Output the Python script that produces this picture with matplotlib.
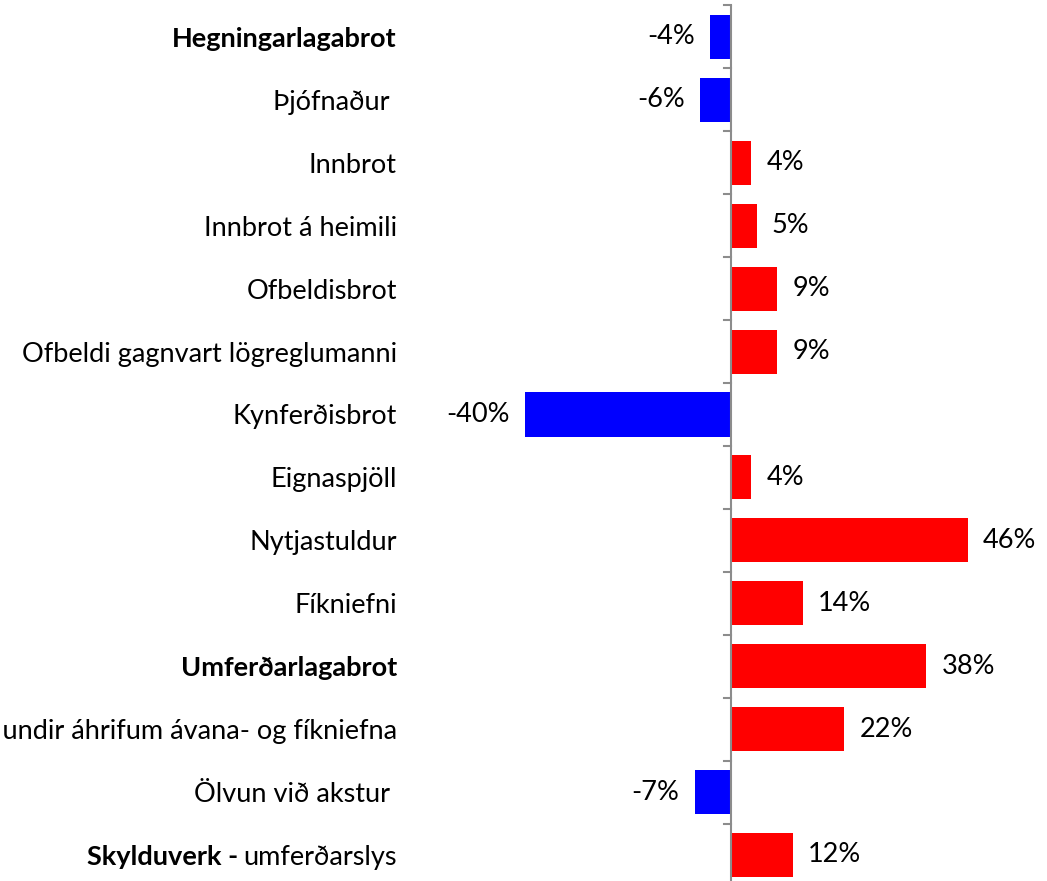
import numpy as np
import matplotlib.pyplot as plt

categories = [
    "Hegningarlagabrot",
    "Þjófnaður ",
    "Innbrot",
    "Innbrot á heimili",
    "Ofbeldisbrot",
    "Ofbeldi gagnvart lögreglumanni",
    "Kynferðisbrot",
    "Eignaspjöll",
    "Nytjastuldur",
    "Fíkniefni",
    "Umferðarlagabrot",
    "Akstur undir áhrifum ávana- og fíkniefna",
    "Ölvun við akstur ",
    "umferðarslys",
]
values = [-4, -6, 4, 5, 9, 9, -40, 4, 46, 14, 38, 22, -7, 12]
bold_rows = [0, 10]

plt.rcParams["font.family"] = ["Lato", "DejaVu Sans"]
fs = 19.5

fig = plt.figure(figsize=(10.47, 8.81), dpi=100)
ax = fig.add_axes([0.403, -0.0062, 0.590, 1.0])

y = np.arange(len(categories))
colors = ["#0000FF" if v < 0 else "#FF0000" for v in values]
ax.barh(y, values, height=0.70, color=colors, zorder=2)

ax.set_xlim(-60, 60)
ax.set_ylim(len(categories) - 0.5, -0.5)

for s in ax.spines.values():
    s.set_visible(False)
ax.axvline(0, color="#8c8c8c", lw=1.5, zorder=3)

# category labels, right aligned well left of the zero line
ax.set_yticks(y)
ax.set_yticklabels(categories, fontsize=fs)
ax.tick_params(axis="y", which="major", length=0, pad=18)
ax.set_xticks([])
for i in bold_rows:
    ax.get_yticklabels()[i].set_fontweight("bold")

# boundary tick marks on the zero axis
bounds = np.arange(len(categories) + 1) - 0.5
for b in bounds:
    ax.plot([-1.3, 0], [b, b], color="#8c8c8c", lw=1.5, clip_on=False, zorder=3)

# bold prefix on the last label
last = ax.get_yticklabels()[-1]
ax.annotate("Skylduverk -", xy=(0, 0.5), xycoords=last, xytext=(-4, 0),
            textcoords="offset points", ha="right", va="center",
            fontsize=fs, fontweight="bold")

for yi, v in zip(y, values):
    if v < 0:
        ax.annotate(f"{v}%", (v, yi), xytext=(-11, 0), textcoords="offset points",
                    ha="right", va="center", fontsize=fs)
    else:
        ax.annotate(f"{v}%", (v, yi), xytext=(11, 0), textcoords="offset points",
                    ha="left", va="center", fontsize=fs)

fig.savefig("out.png", dpi=100)
